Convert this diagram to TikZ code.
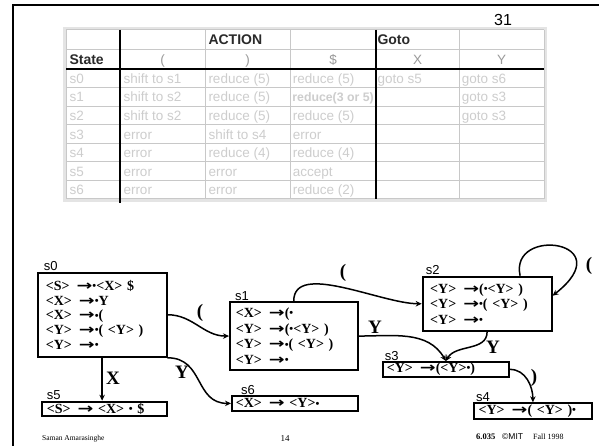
\documentclass[tikz,border=0pt]{standalone}
\usepackage{fontspec}
\setmainfont{Liberation Serif}
\setsansfont{Liberation Sans}
\newfontfamily\arrfont{DejaVu Sans}
\usetikzlibrary{arrows.meta}
\definecolor{gridgray}{HTML}{C8C8C8}
\definecolor{framegray}{HTML}{E4E4E4}
\definecolor{celltext}{HTML}{CDCDCD}
\definecolor{headtext}{HTML}{9A9A9A}
\definecolor{darktext}{HTML}{2A2A2A}
\newcommand\ar{\hspace{7pt}{\arrfont\bfseries\scalebox{1.35}[1]{→}}}
\newcommand\dt{\raisebox{0.8pt}{\fontsize{11}{11}\selectfont•}}
\begin{document}
\begin{tikzpicture}[x=1pt,y=1pt,
  cellt/.style={anchor=base west,inner sep=0pt,text=celltext,font=\sffamily\fontsize{13.5}{14}\selectfont},
  headt/.style={anchor=base,inner sep=0pt,text=headtext,font=\sffamily\fontsize{13.5}{14}\selectfont},
  boldt/.style={anchor=base west,inner sep=0pt,text=darktext,font=\sffamily\bfseries\fontsize{14}{14}\selectfont},
  statebox/.style={draw,line width=1.8pt,anchor=north west,align=left,inner ysep=0pt,font=\bfseries\fontsize{14}{14.7}\selectfont},
  slabel/.style={anchor=base west,inner sep=0pt,font=\sffamily\fontsize{13}{13}\selectfont},
  elabel/.style={inner sep=0pt,font=\bfseries\fontsize{19}{19}\selectfont},
  edge/.style={line width=1.5pt,-{Stealth[length=6pt,width=5.5pt]}},
  foot/.style={inner sep=0pt,anchor=west}]
\useasboundingbox (0,0) rectangle (599,-446);
% page frame
\draw[line width=2.2pt] (12.8,-446) -- (12.8,-5) -- (599,-5);
\node[inner sep=0pt,font=\sffamily\fontsize{16}{16}\selectfont] (pnum) at (503,-20) {31};
% table
\fill[framegray] (63,-27) rectangle (547,-202);
\fill[white] (66,-30) rectangle (544,-199);
\foreach \x in {66,205,290,459,544} \draw[gridgray,line width=1pt] (\x,-30) -- (\x,-199);
\foreach \y in {30,49.3,87.8,106.4,124.9,143.4,162.0,180.5,199} \draw[gridgray,line width=1pt] (66,-\y) -- (544,-\y);
% headers (baselines)
\node[boldt] (hact) at (208.3,-44.6) {ACTION};
\node[boldt] (hgoto) at (377.3,-44.6) {Goto};
\node[boldt] (hstate) at (69.3,-64.2) {State};
\node[headt] (hlp) at (162.5,-64.2) {(};
\node[headt] (hrp) at (247.5,-64.2) {)};
\node[headt] (hdol) at (333,-64.2) {\$};
\node[headt] (hx) at (417.5,-64.2) {X};
\node[headt] (hy) at (501.5,-64.2) {Y};
% row s0
\node[cellt] (r0a) at (69.3,-83.5) {s0};
\node[cellt] (r0b) at (123.3,-83.5) {shift to s1};
\node[cellt] (r0c) at (208.3,-83.5) {reduce (5)};
\node[cellt] (r0d) at (292.7,-83.5) {reduce (5)};
\node[cellt] (r0e) at (377.3,-83.5) {goto s5};
\node[cellt] (r0f) at (461.7,-83.5) {goto s6};
% row s1
\node[cellt] (r1a) at (69.3,-102) {s1};
\node[cellt] (r1b) at (123.3,-102) {shift to s2};
\node[cellt] (r1c) at (208.3,-102) {reduce (5)};
\node[cellt,font=\sffamily\bfseries\fontsize{12.3}{12}\selectfont] (r1d) at (292.2,-101.5) {reduce(3 or 5)};
\node[cellt] (r1f) at (461.7,-102) {goto s3};
% row s2
\node[cellt] (r2a) at (69.3,-120.5) {s2};
\node[cellt] (r2b) at (123.3,-120.5) {shift to s2};
\node[cellt] (r2c) at (208.3,-120.5) {reduce (5)};
\node[cellt] (r2d) at (292.7,-120.5) {reduce (5)};
\node[cellt] (r2f) at (461.7,-120.5) {goto s3};
% row s3
\node[cellt] (r3a) at (69.3,-139.1) {s3};
\node[cellt] (r3b) at (123.3,-139.1) {error};
\node[cellt] (r3c) at (208.3,-139.1) {shift to s4};
\node[cellt] (r3d) at (292.7,-139.1) {error};
% row s4
\node[cellt] (r4a) at (69.3,-157.6) {s4};
\node[cellt] (r4b) at (123.3,-157.6) {error};
\node[cellt] (r4c) at (208.3,-157.6) {reduce (4)};
\node[cellt] (r4d) at (292.7,-157.6) {reduce (4)};
% row s5
\node[cellt] (r5a) at (69.3,-176.1) {s5};
\node[cellt] (r5b) at (123.3,-176.1) {error};
\node[cellt] (r5c) at (208.3,-176.1) {error};
\node[cellt] (r5d) at (292.7,-176.1) {accept};
% row s6
\node[cellt] (r6a) at (69.3,-194.7) {s6};
\node[cellt] (r6b) at (123.3,-194.7) {error};
\node[cellt] (r6c) at (208.3,-194.7) {error};
\node[cellt] (r6d) at (292.7,-194.7) {reduce (2)};
% thick table lines
\draw[line width=2pt] (120,-30) -- (120,-202.7);
\draw[line width=2pt] (376,-30) -- (376,-199);
\draw[line width=2pt] (66,-69.3) -- (544,-69.3);
% states
\node[statebox,text width=112.4pt,inner xsep=8.3pt,minimum height=84.3pt] (s0) at (36.7,-271.7)
  {<S>\ar\dt<X> \$\\<X>\ar\dt Y\\<X>\ar\dt(\\<Y>\ar\dt( <Y> )\\<Y>\ar\dt};
\node[statebox,text width=115.7pt,inner xsep=6pt,minimum height=68.3pt,font=\bfseries\fontsize{14}{15.8}\selectfont] (s1) at (229,-301)
  {<X>\ar(\dt\\<Y>\ar(\dt<Y> )\\<Y>\ar\dt( <Y> )\\<Y>\ar\dt};
\node[statebox,text width=113.8pt,inner xsep=7.6pt,minimum height=54.3pt,font=\bfseries\fontsize{14}{15.6}\selectfont] (s2) at (421.7,-275.7)
  {<Y>\ar(\dt<Y> )\\<Y>\ar\dt( <Y> )\\<Y>\ar\dt};
\node[statebox,text width=118pt,inner xsep=4.3pt,minimum height=15pt] (s3) at (381.7,-361) {<Y>\ar(<Y>\dt)};
\node[statebox,text width=108.6pt,inner xsep=4.4pt,minimum height=15.4pt] (s4) at (473.3,-402.3) {<Y>\ar( <Y> )\dt};
\node[statebox,text width=114.4pt,inner xsep=5.3pt,minimum height=14.3pt] (s5) at (40.7,-400.7) {<S>\ar\ <X> \dt\ \$};
\node[statebox,text width=117.7pt,inner xsep=4pt,minimum height=15pt] (s6) at (231,-395) {<X>\ar\ <Y>\dt};
% state labels
\node[slabel] (l0) at ([xshift=7pt,yshift=1pt]s0.north west) {s0};
\node[slabel] (l1) at ([xshift=6pt,yshift=1pt]s1.north west) {s1};
\node[slabel] (l2) at ([xshift=4pt,yshift=1pt]s2.north west) {s2};
\node[slabel] (l3) at ([xshift=3pt,yshift=1pt]s3.north west) {s3};
\node[slabel] (l4) at ([xshift=2.5pt,yshift=1pt]s4.north west) {s4};
\node[slabel] (l5) at ([xshift=6pt,yshift=1pt]s5.north west) {s5};
\node[slabel] (l6) at ([xshift=10pt,yshift=1pt]s6.north west) {s6};
% edges
\draw[edge] (s0.east) to[out=0,in=180] (s1.west);
\draw[edge] (s0.south east) to[out=0,in=180,looseness=1.2] (s6.west);
\draw[edge] (s0.south) -- (s0.south |- s5.north);
\draw[edge] (s1.north) to[out=90,in=180,looseness=0.8] (s2.west);
\draw[edge] (s1.east) to[out=0,in=120] (s3.north);
\draw[edge] (s2.south) to[out=-90,in=60] (s3.north);
\draw[edge] ([xshift=33pt]s2.north) .. controls +(-11,50) and +(70,55) .. ([yshift=8pt]s2.east);
\draw[edge] (s3.east) to[out=0,in=90] (s4.north);
% edge labels
\node[elabel] (e01) at (200,-313) {(};
\node[elabel] (e06) at (182,-372) {Y};
\node[elabel] (e05) at (113,-378) {X};
\node[elabel] (e12) at (343,-273) {(};
\node[elabel] (e13) at (375,-327) {Y};
\node[elabel] (e23) at (493,-347) {Y};
\node[elabel] (e22) at (589,-266) {(};
\node[elabel] (e34) at (534,-378) {)};
% footer
\node[foot,font=\fontsize{7.5}{8}\selectfont] (fa) at (42,-439) {Saman Amarasinghe};
\node[foot,font=\fontsize{9}{9}\selectfont] (fb) at (280.5,-439) {14};
\node[foot,font=\bfseries\fontsize{8.5}{9}\selectfont] (fc) at (476,-437) {6.035};
\node[foot,font=\sffamily\fontsize{8.5}{9}\selectfont] (fd) at (502,-437) {©MIT};
\node[foot,font=\fontsize{8}{9}\selectfont] (fe) at (533,-437) {Fall 1998};
\end{tikzpicture}
\end{document}
